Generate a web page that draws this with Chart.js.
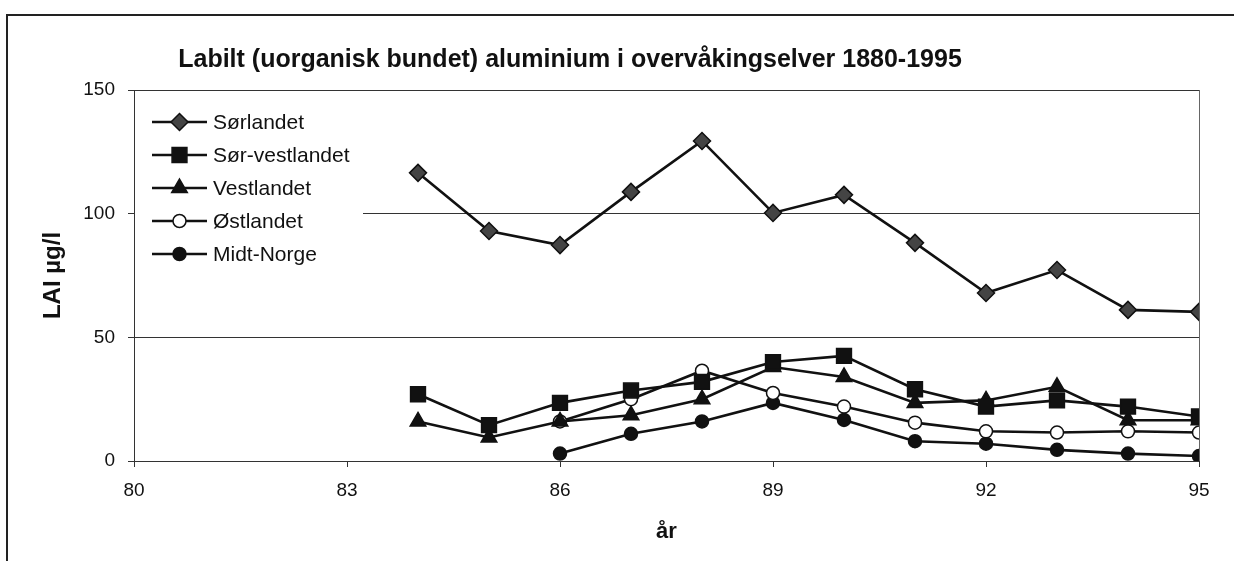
<!DOCTYPE html>
<html>
<head>
<meta charset="utf-8">
<script src="https://cdn.jsdelivr.net/npm/chart.js@4/dist/chart.umd.min.js"></script>
<style>
    html, body { margin: 0; padding: 0; background: #fff; }
    #wrap { width: 1234px; height: 561px; }
</style>
</head>
<body>
<div id="wrap"><canvas id="chart" width="1234" height="561"></canvas></div>
<script>
// data (year = 19xx)
var years = [84, 85, 86, 87, 88, 89, 90, 91, 92, 93, 94, 95];
var sorlandet = [116.5, 93, 87.3, 108.8, 129.4, 100.3, 107.6, 88.2, 67.9, 77.2, 61.1, 60.3];
var sorVestlandet = [27, 14.5, 23.5, 28.5, 32, 40, 42.5, 29, 22, 24.5, 22, 18];
var vestlandet = [16, 9.5, 16, 18.5, 25, 38, 34, 23.5, 24.5, 30, 16.5, 16.5];
var ostlandet = [null, null, 16, 25, 36.5, 27.5, 22, 15.5, 12, 11.5, 12, 11.5];
var midtNorge = [null, null, 3, 11, 16, 23.5, 16.6, 8, 7, 4.5, 3, 2];
var seriesNames = ["Sørlandet", "Sør-vestlandet", "Vestlandet", "Østlandet", "Midt-Norge"];
var xTicks = [80, 83, 86, 89, 92, 95];
var yTicks = [0, 50, 100, 150];

var FONT = "Arial, 'Liberation Sans', sans-serif";

function toPoints(values) {
    return years.map(function (y, i) {
        return { x: y, y: values[i] };
    });
}

function makeSet(label, values, style, radius, fill) {
    return {
        label: label,
        data: toPoints(values),
        borderColor: "#111",
        borderWidth: 2.6,
        pointStyle: style,
        pointRadius: radius,
        pointBackgroundColor: fill,
        pointBorderColor: "#111",
        pointBorderWidth: 1.5,
        tension: 0,
        fill: false
    };
}

// tittel, ramme og forklaring
var decor = {
    id: "decor",
    beforeDraw: function (chart) {
        var ctx = chart.ctx;
        ctx.save();
        ctx.strokeStyle = "#222";
        ctx.lineWidth = 2;
        ctx.beginPath();
        ctx.moveTo(7, 561);
        ctx.lineTo(7, 15);
        ctx.lineTo(1234, 15);
        ctx.stroke();
        ctx.fillStyle = "#111";
        ctx.font = "bold 25px " + FONT;
        ctx.textAlign = "center";
        ctx.textBaseline = "middle";
        ctx.fillText("Labilt (uorganisk bundet) aluminium i overvåkingselver 1880-1995", 570, 60);
        ctx.restore();
    },
    afterDatasetsDraw: function (chart) {
        var ctx = chart.ctx;
        var a = chart.chartArea;
        ctx.save();
        ctx.fillStyle = "#fff";
        ctx.fillRect(a.left + 1, a.top + 2, 228, 180);
        var sets = chart.data.datasets;
        for (var i = 0; i < sets.length; i++) {
            var ds = sets[i];
            var y = a.top + 32 + i * 33;
            ctx.strokeStyle = "#111";
            ctx.lineWidth = 2.5;
            ctx.beginPath();
            ctx.moveTo(a.left + 18, y);
            ctx.lineTo(a.left + 73, y);
            ctx.stroke();
            ctx.fillStyle = ds.pointBackgroundColor;
            ctx.strokeStyle = ds.pointBorderColor;
            ctx.lineWidth = ds.pointBorderWidth;
            Chart.helpers.drawPoint(ctx, {
                pointStyle: ds.pointStyle,
                radius: ds.pointRadius,
                rotation: 0,
                borderWidth: ds.pointBorderWidth
            }, a.left + 45.5, y);
            ctx.fillStyle = "#111";
            ctx.font = "21px " + FONT;
            ctx.textAlign = "left";
            ctx.textBaseline = "middle";
            ctx.fillText(ds.label, a.left + 79, y + 1);
        }
        ctx.restore();
    }
};

var ctx = document.getElementById("chart").getContext("2d");
var chart = new Chart(ctx, {
    type: "line",
    data: {
        datasets: [
            makeSet(seriesNames[0], sorlandet, "rectRot", 8.5, "#444"),
            makeSet(seriesNames[1], sorVestlandet, "rect", 10.5, "#111"),
            makeSet(seriesNames[2], vestlandet, "triangle", 9, "#111"),
            makeSet(seriesNames[3], ostlandet, "circle", 6.5, "#fff"),
            makeSet(seriesNames[4], midtNorge, "circle", 6.5, "#111")
        ]
    },
    options: {
        responsive: false,
        animation: false,
        events: [],
        layout: { padding: { top: 90, right: 35, bottom: 0, left: 0 } },
        plugins: {
            legend: { display: false },
            title: { display: false },
            tooltip: { enabled: false }
        },
        scales: {
            x: {
                type: "linear",
                min: xTicks[0],
                max: xTicks[xTicks.length - 1],
                afterFit: function (scale) { scale.height = 100; },
                afterBuildTicks: function (scale) {
                    scale.ticks = xTicks.map(function (v) { return { value: v }; });
                },
                ticks: {
                    color: "#111",
                    padding: 12,
                    maxRotation: 0,
                    font: { family: FONT, size: 19 }
                },
                grid: {
                    drawOnChartArea: true,
                    tickLength: 6,
                    tickColor: "#333",
                    color: function (c) {
                        return c.tick && c.tick.value === xTicks[xTicks.length - 1] ? "#666" : "rgba(0,0,0,0)";
                    }
                },
                border: { display: true, color: "#333", width: 1 },
                title: {
                    display: true,
                    text: "år",
                    color: "#111",
                    font: { family: FONT, size: 22, weight: "bold" },
                    padding: { top: 0, bottom: 16 }
                }
            },
            y: {
                min: yTicks[0],
                max: yTicks[yTicks.length - 1],
                afterFit: function (scale) { scale.width = 134; },
                afterBuildTicks: function (scale) {
                    scale.ticks = yTicks.map(function (v) { return { value: v }; });
                },
                ticks: {
                    color: "#111",
                    padding: 13,
                    font: { family: FONT, size: 19 }
                },
                grid: {
                    color: "#333",
                    lineWidth: 1,
                    tickLength: 6,
                    tickColor: "#333"
                },
                border: { display: true, color: "#333", width: 1 },
                title: {
                    display: true,
                    text: "LAI µg/l",
                    color: "#111",
                    font: { family: FONT, size: 24, weight: "bold" },
                    padding: { top: 39, bottom: 0 }
                }
            }
        }
    },
    plugins: [decor]
});
</script>
</body>
</html>
